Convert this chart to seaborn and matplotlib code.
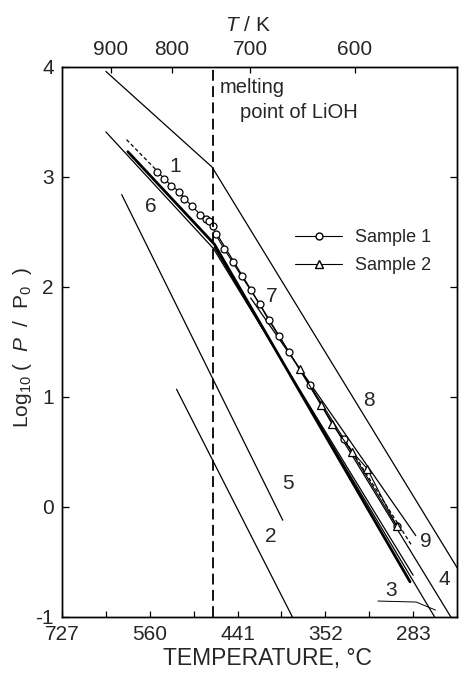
import numpy as np
import pandas as pd
import matplotlib
matplotlib.use("Agg")
import matplotlib.pyplot as plt
import seaborn as sns
from matplotlib.lines import Line2D

# ---- data (x = 1000/T in K^-1, y = log10(P/P0)) ----
melt_x = 1.345

line8_x = [1.10, 1.342, 1.90]
line8_y = [3.96, 3.09, -0.55]
line7_x = [1.10, 1.345, 1.80]
line7_y = [3.41, 2.35, -0.62]
line6_x = [1.15, 1.347, 1.793]
line6_y = [3.23, 2.39, -0.68]
line5_x = [1.136, 1.503]
line5_y = [2.84, -0.12]
line2_x = [1.261, 1.525]
line2_y = [1.07, -1.0]
line3_x = [1.347, 1.849]
line3_y = [2.36, -1.0]
line4_x = [1.35, 1.886]
line4_y = [2.50, -1.0]
line9_x = [1.43, 1.806]
line9_y = [1.90, -0.26]
dash1_hi_x = [1.147, 1.218]
dash1_hi_y = [3.34, 3.05]
dash1_lo_x = [1.638, 1.798]
dash1_lo_y = [0.649, -0.357]

s1_x = [1.217, 1.233, 1.249, 1.267, 1.279, 1.297, 1.315, 1.327, 1.336, 1.343,
        1.350, 1.370, 1.389, 1.409, 1.430, 1.450, 1.471, 1.494, 1.517, 1.565,
        1.642, 1.763]
s1_y = [3.049, 2.986, 2.922, 2.868, 2.804, 2.732, 2.659, 2.614, 2.596, 2.551,
        2.478, 2.342, 2.225, 2.098, 1.971, 1.844, 1.699, 1.554, 1.409, 1.110,
        0.621, -0.176]
s2_x = [1.542, 1.590, 1.615, 1.661, 1.695, 1.763]
s2_y = [1.255, 0.929, 0.757, 0.504, 0.350, -0.176]

label_text = ["1", "2", "3", "4", "5", "6", "7", "8", "9"]
label_x = [1.258, 1.475, 1.750, 1.870, 1.514, 1.203, 1.477, 1.700, 1.830]
label_y = [3.10, -0.27, -0.76, -0.66, 0.21, 2.73, 1.91, 0.97, -0.31]
leader3_x = [1.72, 1.807, 1.851]
leader3_y = [-0.855, -0.864, -0.937]

bottom_tick_pos = [1.0, 1.2, 1.4, 1.6, 1.8]
bottom_tick_lab = ["727", "560", "441", "352", "283"]
bottom_minor = [1.1, 1.3, 1.5, 1.7]
top_T = [900, 800, 700, 600]
y_ticks = [-1, 0, 1, 2, 3, 4]

# ---- style ----
sns.set_theme(style="ticks")
plt.rcParams['font.family'] = ['Liberation Sans', 'DejaVu Sans']
plt.rcParams['mathtext.fontset'] = 'custom'
plt.rcParams['mathtext.rm'] = 'Liberation Sans'
plt.rcParams['mathtext.it'] = 'Liberation Sans:italic'

fig = plt.figure(figsize=(4.59, 6.73), dpi=100)
ax = fig.add_axes([62/459, 56/673, 395/459, 550/673])
ax.set_xlim(1.0, 1.9)
ax.set_ylim(-1, 4)

def draw(x, y, lw=0.9, ls='-', **kw):
    sns.lineplot(x=x, y=y, sort=False, estimator=None, color='black',
                 lw=lw, linestyle=ls, ax=ax, **kw)

draw(line8_x, line8_y)
draw(line7_x, line7_y)
draw(line6_x, line6_y, lw=2.0)
draw(line5_x, line5_y)
draw(line2_x, line2_y)
draw(line3_x, line3_y)
draw(line4_x, line4_y)
draw(line9_x, line9_y)
draw(dash1_hi_x, dash1_hi_y, ls=(0, (3, 2)))
draw(dash1_lo_x, dash1_lo_y, ls=(0, (3, 2)))
draw(leader3_x, leader3_y, lw=0.7)

sns.lineplot(x=s1_x, y=s1_y, sort=False, estimator=None, color='black', lw=0.8,
             marker='o', markersize=5, markerfacecolor='white',
             markeredgecolor='black', markeredgewidth=0.9, ax=ax)
sns.lineplot(x=s2_x, y=s2_y, sort=False, estimator=None, color='black', lw=0.8,
             marker='^', markersize=5.5, markerfacecolor='white',
             markeredgecolor='black', markeredgewidth=0.9, ax=ax)

ax.axvline(melt_x, color='black', lw=1.3, dashes=(6, 3))

for t, x, y in zip(label_text, label_x, label_y):
    ax.text(x, y, t, fontsize=15, ha='center', va='center')

ax.text(1.36, 3.81, "melting", fontsize=14.5, ha='left', va='center')
ax.text(1.405, 3.59, "point of LiOH", fontsize=14.5, ha='left', va='center')

# legend
handles = [Line2D([], [], color='black', lw=0.8, marker='o', markersize=5,
                  markerfacecolor='white', markeredgecolor='black'),
           Line2D([], [], color='black', lw=0.8, marker='^', markersize=5.5,
                  markerfacecolor='white', markeredgecolor='black')]
ax.legend(handles, ["Sample 1", "Sample 2"], loc='upper left',
          bbox_to_anchor=(0.59, 0.705), frameon=False, fontsize=13,
          handlelength=2.6, handletextpad=0.7, labelspacing=0.6,
          borderpad=0, borderaxespad=0)

# axes / ticks
for s in ax.spines.values():
    s.set_linewidth(1.0)
    s.set_color('black')
ax.set_xticks(bottom_tick_pos)
ax.set_xticklabels(bottom_tick_lab)
ax.set_xticks(bottom_minor, minor=True)
ax.set_yticks(y_ticks)
ax.set_yticklabels([str(v) for v in y_ticks])
ax.tick_params(axis='both', which='both', direction='in', color='black',
               labelsize=15, pad=6, width=0.9)
ax.tick_params(axis='x', which='both', length=4)
ax.tick_params(axis='y', which='major', length=5, right=True)

ax.set_xlabel("TEMPERATURE, °C", fontsize=16.5)
ax.xaxis.set_label_coords(0.52, -0.054)
ax.set_ylabel(r"Log$_{10}$ (  $\mathit{P}$  /  P$_0$  )", fontsize=15)
ax.yaxis.set_label_coords(-0.07, 0.49)

ax2 = ax.twiny()
ax2.set_xlim(ax.get_xlim())
ax2.set_xticks([1000.0 / t for t in top_T])
ax2.set_xticklabels([str(t) for t in top_T])
ax2.tick_params(axis='x', direction='in', length=4, width=0.9, labelsize=15,
                pad=6, color='black')
ax2.set_xlabel(r"$\mathit{T}$ / K", fontsize=15)
ax2.xaxis.set_label_coords(0.47, 1.065)
for s in ax2.spines.values():
    s.set_linewidth(1.0)
    s.set_color('black')

fig.savefig("out.png", dpi=100)
